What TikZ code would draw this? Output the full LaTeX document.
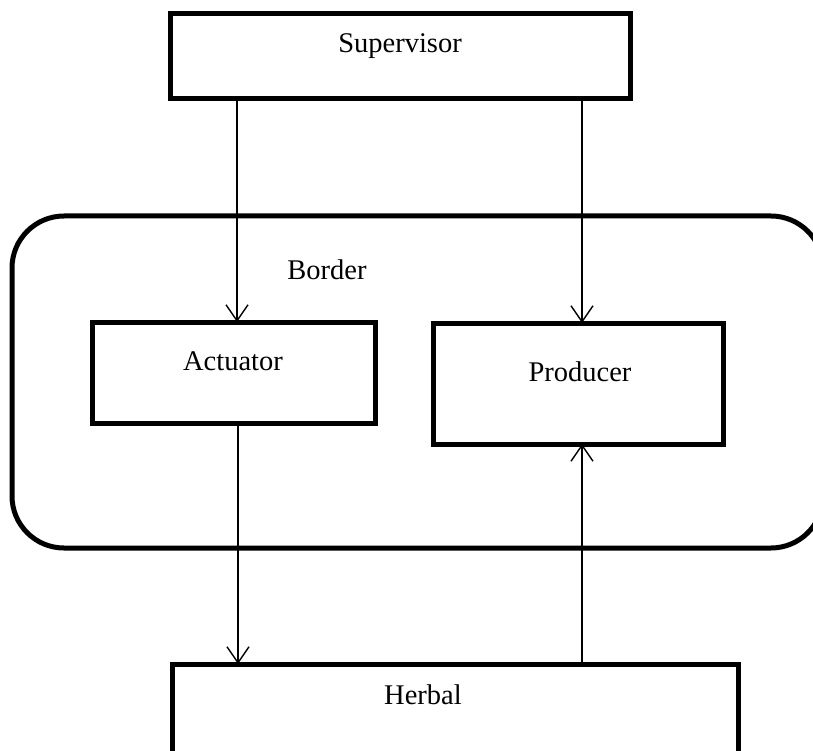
\documentclass[tikz,border=0pt]{standalone}
\usepackage{fontspec}
\setmainfont{Liberation Serif}
\usetikzlibrary{arrows.meta}
\begin{document}
\begin{tikzpicture}[x=1pt,y=-1pt,
  box/.style={draw,line width=5pt,rectangle,inner sep=0pt,outer sep=0pt},
  lbl/.style={font=\fontsize{28.5}{30}\selectfont,inner sep=0pt},
  arr/.style={line width=1.4pt,-{Straight Barb[length=16pt,width=22pt,line width=1.4pt]}}]
\useasboundingbox (0,0) rectangle (813,751);
\clip (0,0) rectangle (813,751);
\draw[line width=5pt,rounded corners=52pt] (12,216) rectangle (823,548);
\node[box,minimum width=460pt,minimum height=85pt] (sup) at (400,56.5) {};
\node[box,minimum width=283pt,minimum height=101pt] (act) at (233.5,372.5) {};
\node[box,minimum width=290pt,minimum height=121pt] (pro) at (578,383.5) {};
\node[box,minimum width=566pt,minimum height=136pt] (her) at (455,732) {};
\node[lbl] (tsup) at (400,46) {Supervisor};
\node[lbl] (tbor) at (327,270) {Border};
\node[lbl] (tact) at (233,361) {Actuator};
\node[lbl] (tpro) at (580,372) {Producer};
\node[lbl] (ther) at (423,695) {Herbal};
\coordinate (s1) at ([xshift=67pt]sup.south west);
\coordinate (s2) at ([xshift=412pt]sup.south west);
\coordinate (a1) at ([xshift=146pt]act.south west);
\coordinate (h1) at ([xshift=410pt]her.north west);
\draw[arr] (s1) -- (s1 |- act.north);
\draw[arr] (s2) -- (s2 |- pro.north);
\draw[arr] (a1) -- (a1 |- her.north);
\draw[arr] (h1) -- (h1 |- pro.south);
\end{tikzpicture}
\end{document}
